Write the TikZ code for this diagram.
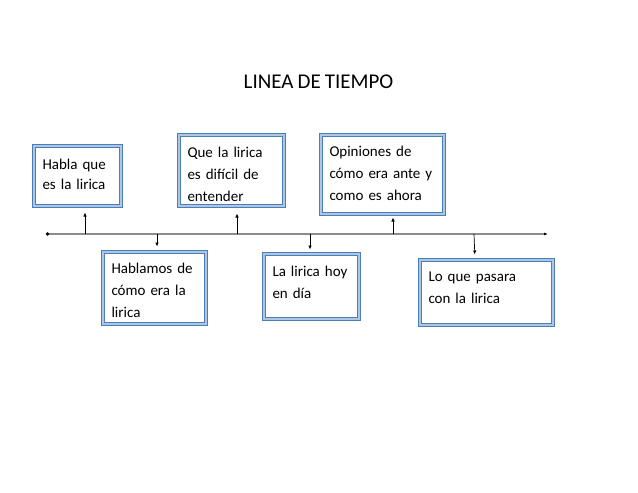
\documentclass[tikz,border=0pt]{standalone}
\usepackage{fontspec}
\setmainfont[WordSpace=0.85]{Carlito}
\usetikzlibrary{arrows.meta}

\definecolor{frameblue}{HTML}{4A7EBB}
\definecolor{framelight}{HTML}{AFC6E2}
\definecolor{linegray}{HTML}{8C8C8C}

\tikzset{
  evento/.style={draw=frameblue, double=framelight, double distance=1.4pt,
    line width=1pt, align=left, anchor=north west, inner xsep=8.5pt, inner ysep=0pt,
    font=\fontsize{15}{22}\selectfont},
  marca/.style={-{Latex[length=4pt,width=3.5pt]}, line width=0.7pt, black}
}

\begin{document}
\begin{tikzpicture}[x=1pt, y=-1pt]
    \useasboundingbox (0,0) rectangle (638,493);
    % Titulo
    \node (titulo) at (318.5,81.5) {\fontsize{21}{24}\selectfont LINEA DE TIEMPO};

    % --- Linea del tiempo ---
    \coordinate (ini) at (46,234);
    \coordinate (fin) at (548,234);
    \draw[linegray, line width=1.4pt, {Circle[length=3pt,black]}-{Latex[length=4pt,black]}] (ini) -- (fin);

    % Cajas de arriba
    \node[evento, text width=70pt, text height=23pt, text depth=37pt, font=\fontsize{15}{20}\selectfont] (habla) at (33.5,145.5) {Habla que\\es la lirica};
    \node[evento, text width=88pt, text height=22pt, text depth=49pt] (dificil) at (178.5,134.5) {Que la lirica\\es difícil de\\entender};
    \node[evento, text width=106pt, text height=21pt, text depth=58pt] (opiniones) at (320.5,134.5) {Opiniones de\\cómo era ante y\\como es ahora};

    % Cajas de abajo
    \node[evento, text width=86pt, text height=21pt, text depth=51pt] (hablamos) at (102.5,251.5) {Hablamos de\\cómo era la\\lirica};
    \node[evento, text width=78pt, text height=22pt, text depth=43pt] (hoy) at (263.5,253.5) {La lirica hoy\\en día};
    \node[evento, text width=116pt, text height=21pt, text depth=44pt] (futuro) at (419.5,259.5) {Lo que pasara\\con la lirica};

    % Flechas
    \coordinate (t1) at (85,234);
    \coordinate (t2) at (157,234);
    \coordinate (t3) at (237,234);
    \coordinate (t4) at (310,234);
    \coordinate (t5) at (393,234);
    \coordinate (t6) at (474,234);
    \draw[marca, shorten >=6pt] (t1) -- (t1 |- habla.south);
    \draw[marca, shorten >=5pt] (t2) -- (t2 |- hablamos.north);
    \draw[marca, shorten >=7pt] (t3) -- (t3 |- dificil.south);
    \draw[marca, shorten >=3pt] (t5) -- (t5 |- opiniones.south);
    \draw[marca, shorten >=4pt] (t4) -- (t4 |- hoy.north);
    \draw[marca, shorten >=5pt] (t6) -- ([xshift=1pt]t6 |- futuro.north);
\end{tikzpicture}
\end{document}
